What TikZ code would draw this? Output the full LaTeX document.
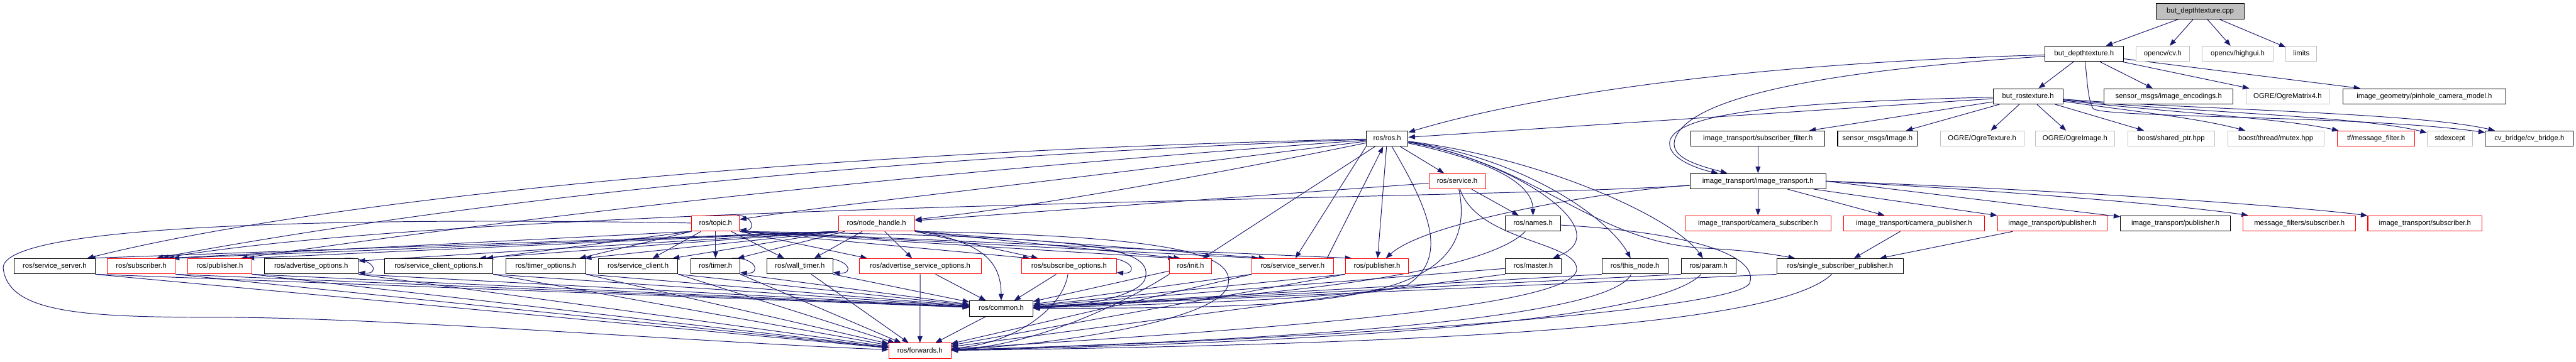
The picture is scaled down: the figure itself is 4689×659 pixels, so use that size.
\documentclass[tikz,border=0pt]{standalone}
\usepackage{fontspec}
\setmainfont{Liberation Sans}
\usetikzlibrary{arrows.meta}
\definecolor{edgec}{HTML}{191970}
\definecolor{grayb}{HTML}{BFBFBF}
\definecolor{redb}{HTML}{FF0000}
\pgfdeclarelayer{bglayer}
\pgfdeclarelayer{edgelayer}
\pgfsetlayers{bglayer,edgelayer,main}
\begin{document}
\begin{tikzpicture}[x=1pt,y=1pt,
  nbox/.style={draw, line width=1.2pt, minimum height=28pt, inner sep=0pt, fill=white,
    text height=10pt, text depth=3pt, font=\fontsize{13}{15}\selectfont},
  nb/.style={nbox, draw=black},
  nr/.style={nbox, draw=redb},
  ng/.style={nbox, draw=grayb},
  edg/.style={draw=edgec, line width=1.1pt, -{Triangle[length=12pt,width=9pt]}},
]
\useasboundingbox (0,0) rectangle (4689,-659);
\begin{pgfonlayer}{bglayer}
\fill[white] (0,0) rectangle (4689,-659);
\end{pgfonlayer}

% ---------- nodes ----------
\node[nb, fill=grayb, minimum width=160pt] (cpp) at (4005,-20.5) {but\_depthtexture.cpp};
% row 2
\node[nb, minimum width=143pt] (bdth) at (3793.5,-98) {but\_depthtexture.h};
\node[ng, minimum width=97pt] (cv) at (3936.5,-98) {opencv/cv.h};
\node[ng, minimum width=130pt] (hg) at (4073,-98) {opencv/highgui.h};
\node[ng, minimum width=56pt] (lim) at (4189,-98) {limits};
% row 3
\node[nb, minimum width=127pt] (brt) at (3691.5,-175.5) {but\_rostexture.h};
\node[nb, minimum width=235pt] (enc) at (3947.5,-175.5) {sensor\_msgs/image\_encodings.h};
\node[ng, minimum width=152pt] (m4) at (4164,-175.5) {OGRE/OgreMatrix4.h};
\node[nb, minimum width=296pt] (pin) at (4413,-175.5) {image\_geometry/pinhole\_camera\_model.h};
% row 4
\node[nb, minimum width=76pt] (ros) at (2525,-252.5) {ros/ros.h};
\node[nb, minimum width=244pt] (sf) at (3200,-252.5) {image\_transport/subscriber\_filter.h};
\node[nb, minimum width=145pt] (img) at (3417.5,-252.5) {sensor\_msgs/Image.h};
\node[ng, minimum width=152pt] (otex) at (3608,-252.5) {OGRE/OgreTexture.h};
\node[ng, minimum width=144pt] (oimg) at (3777,-252.5) {OGRE/OgreImage.h};
\node[ng, minimum width=158pt] (sp) at (3952,-252.5) {boost/shared\_ptr.hpp};
\node[ng, minimum width=175pt] (mtx) at (4142.5,-252.5) {boost/thread/mutex.hpp};
\node[nr, minimum width=140pt] (tfmf) at (4325,-252.5) {tf/message\_filter.h};
\node[ng, minimum width=83pt] (stde) at (4459.5,-252.5) {stdexcept};
\node[nb, minimum width=160pt] (cvb) at (4604,-252.5) {cv\_bridge/cv\_bridge.h};
% row 5
\node[nr, minimum width=103pt] (srv) at (2652.5,-330) {ros/service.h};
\node[nb, minimum width=248pt] (it) at (3200,-330) {image\_transport/image\_transport.h};
% row 6
\node[nr, minimum width=87pt] (topic) at (1302.5,-407) {ros/topic.h};
\node[nr, minimum width=139pt] (nh) at (1595.5,-407) {ros/node\_handle.h};
\node[nb, minimum width=101pt] (names) at (2790.5,-407) {ros/names.h};
\node[nr, minimum width=266pt] (camsub) at (3200,-407) {image\_transport/camera\_subscriber.h};
\node[nr, minimum width=256pt] (campub) at (3484,-407) {image\_transport/camera\_publisher.h};
\node[nr, minimum width=200pt] (itpubR) at (3736,-407) {image\_transport/publisher.h};
\node[nb, minimum width=200pt] (itpubB) at (3960,-407) {image\_transport/publisher.h};
\node[nr, minimum width=205pt] (mfsub) at (4185.5,-407) {message\_filters/subscriber.h};
\node[nr, minimum width=208pt] (itsub) at (4414,-407) {image\_transport/subscriber.h};
% row 7
\node[nb, minimum width=147pt] (ss1) at (99.5,-485) {ros/service\_server.h};
\node[nr, minimum width=124pt] (sub) at (257,-485) {ros/subscriber.h};
\node[nr, minimum width=116pt] (pub1) at (400,-485) {ros/publisher.h};
\node[nb, minimum width=171pt] (ao) at (566.5,-485) {ros/advertise\_options.h};
\node[nb, minimum width=197pt] (sco) at (798.5,-485) {ros/service\_client\_options.h};
\node[nb, minimum width=145pt] (tmo) at (993.5,-485) {ros/timer\_options.h};
\node[nb, minimum width=145pt] (sc) at (1161.5,-485) {ros/service\_client.h};
\node[nb, minimum width=89pt] (timer) at (1302.5,-485) {ros/timer.h};
\node[nb, minimum width=120pt] (wt) at (1456,-485) {ros/wall\_timer.h};
\node[nr, minimum width=222pt] (aso) at (1675,-485) {ros/advertise\_service\_options.h};
\node[nr, minimum width=172pt] (so) at (1946,-485) {ros/subscribe\_options.h};
\node[nr, minimum width=76pt] (init) at (2167,-485) {ros/init.h};
\node[nr, minimum width=148pt] (ss2) at (2353,-485) {ros/service\_server.h};
\node[nr, minimum width=115pt] (pub2) at (2506.5,-485) {ros/publisher.h};
\node[nb, minimum width=102pt] (master) at (2791,-485) {ros/master.h};
\node[nb, minimum width=120pt] (tn) at (2976,-485) {ros/this\_node.h};
\node[nb, minimum width=100pt] (param) at (3110,-485) {ros/param.h};
\node[nb, minimum width=231pt] (ssp) at (3349.5,-485) {ros/single\_subscriber\_publisher.h};
% row 8, 9
\node[nb, minimum width=115pt] (common) at (1822.5,-562) {ros/common.h};
\node[nr, minimum width=113pt] (fwd) at (1674.5,-639) {ros/forwards.h};

% ---------- edges ----------
\begin{pgfonlayer}{edgelayer}
% top
\draw[edg] (cpp) -- (bdth);
\draw[edg] (cpp) -- (cv);
\draw[edg] (cpp) -- (hg);
\draw[edg] (cpp) -- (lim);
\draw[edg] (bdth) -- (brt);
\draw[edg] (bdth) -- (enc);
\draw[edg] (bdth) -- (m4);
\draw[edg] (bdth) -- (pin);
\draw[edg] (bdth) .. controls (3200,-115) and (2800,-170) .. (ros);
\draw[edg] (bdth) .. controls (3300,-130) and (3080,-180) .. (3050,-250) .. controls (3035,-285) and (3085,-300) .. (it);
\draw[edg] (bdth) .. controls (3800,-150) and (3800,-180) .. (3810,-198) .. controls (3830,-215) and (4300,-210) .. (cvb);
% but_rostexture
\draw[edg] (brt) -- (ros);
\draw[edg] (brt) .. controls (3300,-185) and (3060,-200) .. (3040,-255) .. controls (3030,-290) and (3100,-310) .. (it);
\draw[edg] (brt) -- (sf);
\draw[edg] (brt) -- (img);
\draw[edg] (brt) -- (otex);
\draw[edg] (brt) -- (oimg);
\draw[edg] (brt) -- (sp);
\draw[edg] (brt) .. controls (3900,-205) and (4000,-215) .. (mtx);
\draw[edg] (brt) .. controls (3950,-205) and (4150,-215) .. (tfmf);
\draw[edg] (brt) .. controls (4000,-205) and (4300,-212) .. (stde);
\draw[edg] (brt) .. controls (4000,-200) and (4400,-205) .. (cvb);
\draw[edg] (sf) -- (it);
% ros/ros.h
\draw[edg] (ros) -- (srv);
\draw[edg] (ros) .. controls (2700,-290) and (2790,-330) .. (names);
\draw[edg] (ros) .. controls (2750,-290) and (2950,-420) .. (master);
\draw[edg] (ros) .. controls (2780,-290) and (2930,-400) .. (tn);
\draw[edg] (ros) .. controls (2820,-290) and (3050,-400) .. (param);
\draw[edg] (ros) .. controls (2800,-300) and (2900,-440) .. (3100,-452) .. controls (3180,-456) and (3220,-462) .. (ssp);
\draw[edg] (ros) .. controls (2600,-380) and (2640,-470) .. (2560,-520) .. controls (2450,-545) and (2100,-555) .. (common);
\draw[edg] (ros) -- (pub2);
\draw[edg] (ros.south west) -- ([xshift=5pt]ss2.north);
\draw[edg] ([xshift=-12pt]ss2.north east) -- (ros);
\draw[edg] (ros) -- (init);
\draw[edg] (ros) .. controls (1500,-275) and (600,-360) .. ([xshift=-15pt]ss1.north east);
\draw[edg] (ros) .. controls (1500,-290) and (800,-375) .. ([xshift=-35pt]sub.north east);
\draw[edg] (ros) .. controls (1600,-320) and (1000,-390) .. ([xshift=-20pt]pub1.north east);
\draw[edg] (ros) .. controls (1800,-345) and (1500,-375) .. (topic);
\draw[edg] (ros) .. controls (2000,-360) and (1760,-390) .. (nh);
% ros/service.h
\draw[edg] (srv) -- (nh);
\draw[edg] (srv) -- (names);
\draw[edg] (srv) .. controls (2700,-560) and (2400,-560) .. (common);
\draw[edg] (srv) .. controls (2690,-440) and (2870,-440) .. (2870,-490) .. controls (2870,-560) and (2300,-600) .. (fwd);
% image_transport.h
\draw[edg] (it) -- (camsub);
\draw[edg] (it) -- (campub);
\draw[edg] (it) -- (itpubR);
\draw[edg] (it.east) -- (itpubB);
\draw[edg] (it.east) .. controls (3700,-350) and (4000,-378) .. (mfsub);
\draw[edg] (it.east) .. controls (3800,-348) and (4200,-378) .. (itsub);
\draw[edg] (it) .. controls (2950,-345) and (2600,-400) .. (pub2);
\draw[edg] (it) .. controls (2650,-365) and (900,-370) .. ([xshift=-25pt]sub.north east);
\draw[edg] (campub) -- (ssp);
\draw[edg] (itpubR) -- (ssp);
% ros/topic.h
\draw[edg] (topic.south west) -- ([xshift=-15pt]sub.north east);
\draw[edg] (topic.south west) -- ([xshift=-12pt]sco.north east);
\draw[edg] (topic.south west) -- ([xshift=-12pt]tmo.north east);
\draw[edg] (topic) -- (sc);
\draw[edg] (topic) -- (timer);
\draw[edg] (topic) -- (wt);
\draw[edg] (topic.south east) -- ([xshift=15pt]aso.north west);
\draw[edg] (topic.south east) -- ([xshift=15pt]so.north west);
\draw[edg] (topic.south east) -- ([xshift=10pt]init.north west);
\draw[edg] (topic.south east) -- ([xshift=12pt]ss2.north west);
\draw[edg] (topic.south east) -- ([xshift=12pt]pub2.north west);
\draw[edg] (topic.south east) .. controls (1950,-430) and (2100,-445) .. (2085,-505) .. controls (2080,-540) and (1960,-560) .. (common);
\draw[edg] (topic) .. controls (600,-395) and (-5,-410) .. (6,-490) .. controls (17,-570) and (150,-578) .. (400,-578) .. controls (700,-578) and (1300,-625) .. (fwd);
\draw[edg] ([xshift=-5pt]topic.north east) .. controls +(30,0) and +(28,-2) .. ([yshift=3pt]topic.south east);
% ros/node_handle.h
\draw[edg] (nh.south west) -- ([xshift=-12pt]ss1.north east);
\draw[edg] (nh.south west) -- ([xshift=-5pt]sub.north east);
\draw[edg] (nh.south west) -- ([xshift=-8pt]pub1.north east);
\draw[edg] (nh.south west) -- ([yshift=-5pt]ao.north east);
\draw[edg] (nh.south west) -- ([xshift=-25pt]sco.north east);
\draw[edg] (nh.south west) -- ([xshift=-2pt]tmo.north east);
\draw[edg] (nh.south west) -- ([xshift=-10pt]sc.north east);
\draw[edg] (nh) -- ([xshift=-5pt]timer.north east);
\draw[edg] (nh) -- (wt);
\draw[edg] (nh) -- (aso);
\draw[edg] (nh.south east) -- ([xshift=30pt]so.north west);
\draw[edg] (nh.south east) -- ([xshift=20pt]init.north west);
\draw[edg] (nh.south east) -- ([xshift=25pt]ss2.north west);
\draw[edg] (nh) .. controls (1780,-440) and (1822,-470) .. (common);
\draw[edg] (nh.south east) .. controls (2150,-430) and (2250,-465) .. (2235,-520) .. controls (2217,-586) and (1900,-630) .. (fwd);
% self loops
\draw[edg] ([xshift=-25pt]ao.north east) .. controls +(55,2) and +(40,-3) .. ([yshift=3pt]ao.south east);
\draw[edg] ([xshift=-15pt]timer.north east) .. controls +(45,2) and +(38,-3) .. ([yshift=3pt]timer.south east);
\draw[edg] ([xshift=-25pt]wt.north east) .. controls +(55,2) and +(40,-3) .. ([yshift=3pt]wt.south east);
\draw[edg] ([xshift=-25pt]so.north east) .. controls +(55,2) and +(40,-3) .. ([yshift=3pt]so.south east);
% row 7 -> common / forwards
\foreach \n in {ss1,sub,pub1,ao,sco,tmo,sc,timer} {
  \draw[edg] (\n.south east) -- (common);
  \draw[edg] (\n.south east) -- (fwd);
}
\draw[edg] (wt.south east) -- (common);
\draw[edg] (wt) -- (fwd);
\draw[edg] (aso) -- (common);
\draw[edg] (aso) -- (fwd);
\draw[edg] (so) -- (common);
\draw[edg] (so) .. controls (1935,-560) and (1850,-625) .. (fwd);
\draw[edg] (init) -- (common);
\draw[edg] (init.south west) .. controls (2000,-580) and (1850,-632) .. (fwd);
\draw[edg] (ss2.south west) -- (common);
\draw[edg] (ss2.south west) -- (fwd);
\draw[edg] (pub2.south west) -- (common);
\draw[edg] (pub2.south west) -- (fwd);
\draw[edg] (master) -- (common);
\draw[edg] (master.south west) -- (fwd);
\draw[edg] (tn.south west) -- (common);
\draw[edg] (tn) .. controls (2940,-560) and (2600,-612) .. (fwd);
\draw[edg] (param.south west) -- (common);
\draw[edg] (param) .. controls (3040,-560) and (2700,-618) .. (fwd);
\draw[edg] (ssp.south west) -- (common);
\draw[edg] (ssp) .. controls (3250,-580) and (2800,-625) .. (fwd);
\draw[edg] (names) .. controls (2700,-500) and (2300,-545) .. (common);
\draw[edg] (names) .. controls (3100,-425) and (3200,-470) .. (3185,-515) .. controls (3170,-565) and (2400,-620) .. (fwd);
\draw[edg] (common) -- (fwd);
\end{pgfonlayer}
\end{tikzpicture}
\end{document}
